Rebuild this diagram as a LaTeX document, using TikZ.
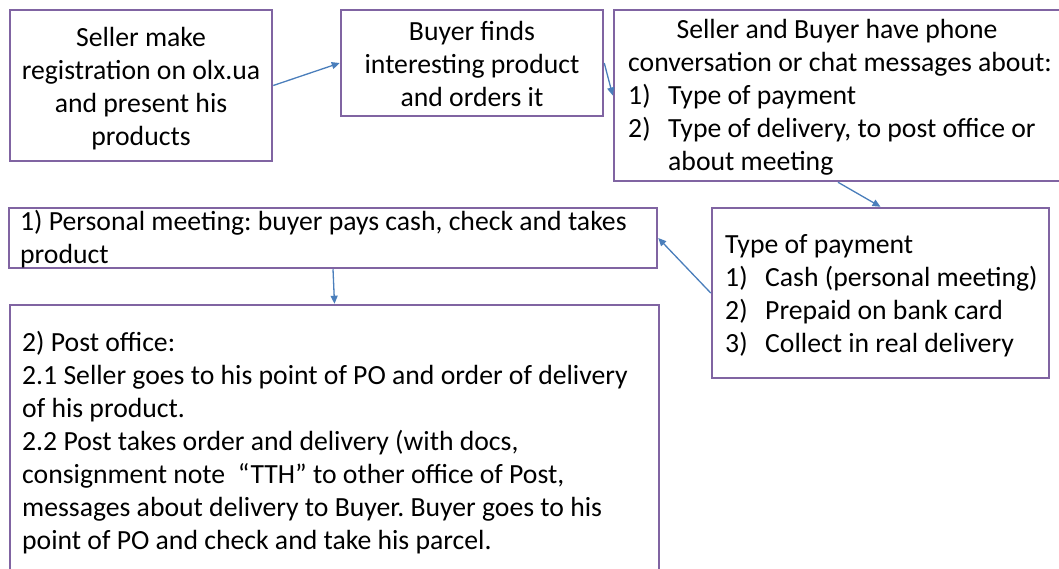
\documentclass[tikz,border=0pt]{standalone}
\usepackage{fontspec}
\setmainfont{Carlito}
\usetikzlibrary{arrows.meta}
\frenchspacing

\definecolor{boxline}{HTML}{8064A2}
\definecolor{arrowline}{HTML}{4A7EBB}

\begin{document}
\begin{tikzpicture}[x=1pt,y=-1pt,
  box/.style={draw=boxline, line width=2.5pt, inner sep=0pt, fill=white},
  link/.style={draw=arrowline, line width=1.3pt, -{Triangle[length=8pt,width=7pt]}},
  txt/.style={inner sep=0pt, font=\fontsize{27.7}{33}\selectfont}]
\useasboundingbox (0,0) rectangle (1059,568);

% boxes
\node[box, minimum width=262pt, minimum height=151pt] (seller) at (141,85.5) {};
\node[box, minimum width=262pt, minimum height=106pt] (buyer)  at (472,63) {};
\node[box, minimum width=448pt, minimum height=171pt] (talk)   at (838,95.5) {};
\node[box, minimum width=648pt, minimum height=60pt]  (meet)   at (333,238) {};
\node[box, minimum width=337pt, minimum height=170pt] (pay)    at (880.5,293) {};
\node[box, minimum width=649pt, minimum height=275pt] (post)   at (334.5,442.5) {};

% seller
\node[txt, anchor=base] (s1) at (141,46)  {Seller make};
\node[txt, anchor=base] (s2) at (141,79)  {registration on olx.ua};
\node[txt, anchor=base] (s3) at (141,112) {and present his};
\node[txt, anchor=base] (s4) at (141,145) {products};

% buyer
\node[txt, anchor=base] (b1) at (472,40)  {Buyer finds};
\node[txt, anchor=base] (b2) at (472,73)  {interesting product};
\node[txt, anchor=base] (b3) at (472,106) {and orders it};

% conversation
\node[txt, anchor=base] (c1) at (837,38) {Seller and Buyer have phone};
\node[txt, anchor=base west] (c2) at (628,71) {conversation or chat messages about:};
\node[txt, anchor=base west] (c3n) at (628,104) {1)};
\node[txt, anchor=base west] (c3) at (668,104) {Type of payment};
\node[txt, anchor=base west] (c4n) at (628,137) {2)};
\node[txt, anchor=base west] (c4) at (668,137) {Type of delivery, to post office or};
\node[txt, anchor=base west] (c5) at (668,170) {about meeting};

% payment
\node[txt, anchor=base west] (p0) at (725,253) {Type of payment};
\node[txt, anchor=base west] (p1n) at (725,286) {1)};
\node[txt, anchor=base west] (p1) at (765,286) {Cash (personal meeting)};
\node[txt, anchor=base west] (p2n) at (725,319) {2)};
\node[txt, anchor=base west] (p2) at (765,319) {Prepaid on bank card};
\node[txt, anchor=base west] (p3n) at (725,352) {3)};
\node[txt, anchor=base west] (p3) at (765,352) {Collect in real delivery};

% personal meeting
\node[txt, anchor=base west] (m1) at (20,230) {1) Personal meeting: buyer pays cash, check and takes};
\node[txt, anchor=base west] (m2) at (20,263) {product};

% post office
\node[txt, anchor=base west] (o1) at (22,351) {2) Post office:};
\node[txt, anchor=base west] (o2) at (22,384) {2.1 Seller goes to his point of PO and order of delivery};
\node[txt, anchor=base west] (o3) at (22,417) {of his product.};
\node[txt, anchor=base west] (o4) at (22,450) {2.2 Post takes order and delivery (with docs,};
\node[txt, anchor=base west] (o5) at (22,483) {consignment note\ \ “TTH” to other office of Post,};
\node[txt, anchor=base west] (o6) at (22,516) {messages about delivery to Buyer. Buyer goes to his};
\node[txt, anchor=base west] (o7) at (22,549) {point of PO and check and take his parcel.};

% connectors
\draw[link] (seller.east) -- (buyer.west);
\draw[link] (buyer.east) -- (talk.west);
\draw[link] (talk.south) -- (pay.north);
\draw[link] (pay.west) -- (meet.east);
\draw[link] (meet.south) -- (post.north);
\end{tikzpicture}
\end{document}
